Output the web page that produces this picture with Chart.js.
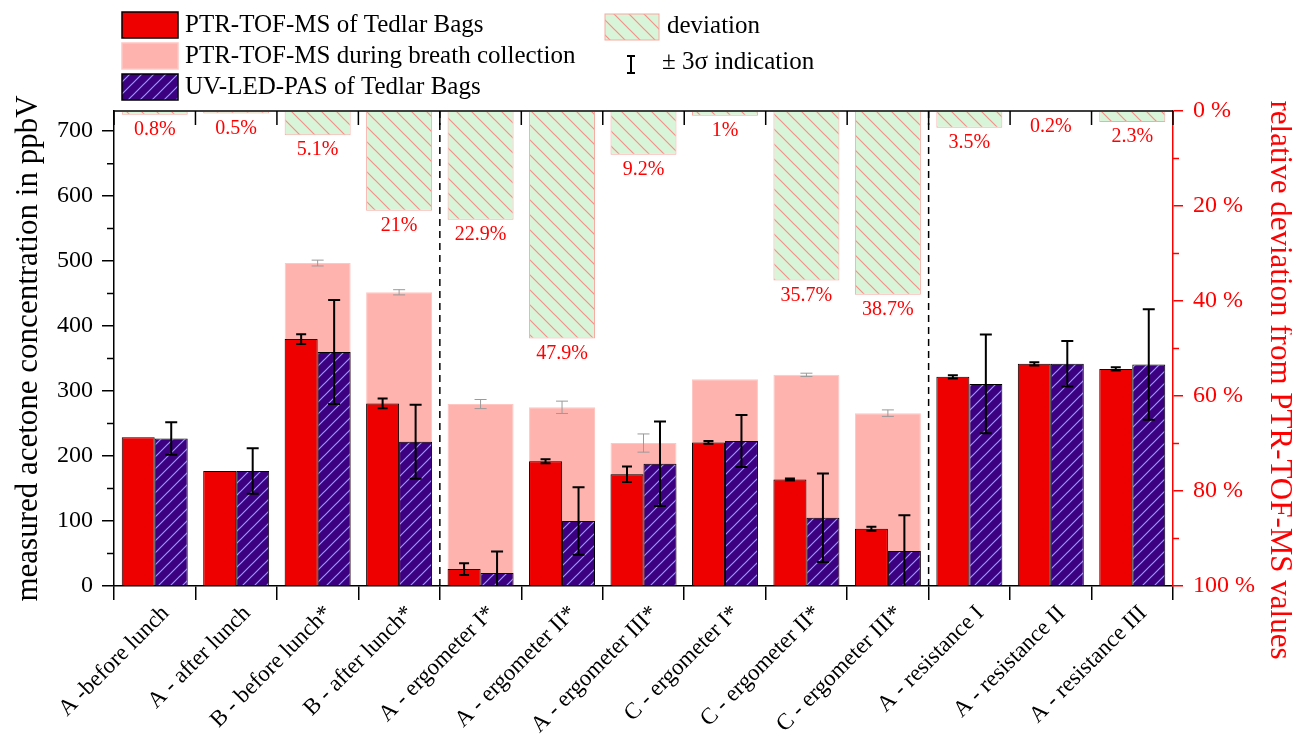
<!DOCTYPE html>
<html>
<head>
<meta charset="utf-8">
<script src="https://cdn.jsdelivr.net/npm/chart.js@4.4.1/dist/chart.umd.min.js"></script>
<style>
  html, body { margin: 0; padding: 0; background: #fff; }
  canvas { display: block; }
</style>
</head>
<body>
<canvas id="myChart" width="1292" height="735"></canvas>
<script>
// data
const categories = ['A -before lunch', 'A - after lunch', 'B - before lunch*', 'B - after lunch*',
  'A - ergometer I*', 'A - ergometer II*', 'A - ergometer III*', 'C - ergometer I*',
  'C - ergometer II*', 'C - ergometer III*', 'A - resistance I', 'A - resistance II', 'A - resistance III'];
const ptrBag       = [229, 177, 380, 281, 26, 192, 172, 221, 164, 88, 322, 342, 334];
const ptrBagErr    = [0, 0, 7.5, 7.5, 9, 3, 12, 2, 1.5, 3, 2.5, 2.5, 2.5];
const pasBag       = [227, 177, 360, 222, 20, 100, 188, 223, 105, 54, 311, 342, 341];
const pasBagErr    = [25, 35, 80, 57, 33, 52, 65, 40, 68, 55, 76, 35, 85];
const ptrBreath    = [null, null, 497, 452, 280, 275, 220, 318, 325, 266, null, null, null];
const ptrBreathErr = [0, 0, 4.5, 4, 7, 9.5, 14, 0, 2.5, 5, 0, 0, 0];
const deviation    = [0.8, 0.5, 5.1, 21, 22.9, 47.9, 9.2, 1, 35.7, 38.7, 3.5, 0.2, 2.3];
const separators   = [4, 10]; // dashed line before these category indices
const rightTitle   = 'relative deviation from PTR-TOF-MS values';

const FONT = "'Liberation Serif', 'Times New Roman', serif";
const RED = '#ee0000';
const AXRED = '#ff0000';

function hatch(bg, line, size, lw, slash) {
  const c = document.createElement('canvas');
  c.width = c.height = size;
  const g = c.getContext('2d');
  g.fillStyle = bg;
  g.fillRect(0, 0, size, size);
  g.strokeStyle = line;
  g.lineWidth = lw;
  g.beginPath();
  if (slash) {
    g.moveTo(-1, size + 1); g.lineTo(size + 1, -1);
    g.moveTo(-1, 1); g.lineTo(1, -1);
    g.moveTo(size - 1, size + 1); g.lineTo(size + 1, size - 1);
  } else {
    g.moveTo(-1, -1); g.lineTo(size + 1, size + 1);
    g.moveTo(size - 1, -1); g.lineTo(size + 1, 1);
    g.moveTo(-1, size - 1); g.lineTo(1, size + 1);
  }
  g.stroke();
  return g.createPattern(c, 'repeat');
}

const purpleFill = hatch('#3d0080', '#8f9cff', 12, 1.2, true);
const devFill = hatch('#d9f5d9', '#f5908a', 15, 1.2, false);

// error bars, separators, deviation labels, legend, extra ticks
const extras = {
  id: 'extras',
  afterDatasetsDraw(chart) {
    const { ctx, chartArea: a, scales: { x, y } } = chart;
    const errs = [
      [2, ptrBreathErr, '#9a9a9a', 1, 12],
      [0, ptrBagErr, '#000', 2, 10],
      [1, pasBagErr, '#000', 2, 12]
    ];
    ctx.save();
    ctx.beginPath();
    ctx.rect(a.left, a.top, a.right - a.left, a.bottom - a.top);
    ctx.clip();
    errs.forEach(([di, e, col, lw, cap]) => {
      const vals = chart.data.datasets[di].data;
      chart.getDatasetMeta(di).data.forEach((bar, i) => {
        if (vals[i] == null || !e[i]) return;
        const yt = y.getPixelForValue(vals[i] + e[i]);
        const yb = y.getPixelForValue(vals[i] - e[i]);
        ctx.strokeStyle = col;
        ctx.lineWidth = lw;
        ctx.beginPath();
        ctx.moveTo(bar.x, yt); ctx.lineTo(bar.x, yb);
        ctx.moveTo(bar.x - cap / 2, yt); ctx.lineTo(bar.x + cap / 2, yt);
        ctx.moveTo(bar.x - cap / 2, yb); ctx.lineTo(bar.x + cap / 2, yb);
        ctx.stroke();
      });
    });
    ctx.restore();

    // dashed separators
    const half = (x.getPixelForValue(1) - x.getPixelForValue(0)) / 2;
    ctx.save();
    ctx.strokeStyle = '#000';
    ctx.lineWidth = 1.5;
    ctx.setLineDash([7, 5]);
    separators.forEach(s => {
      const px = x.getPixelForValue(s) - half;
      ctx.beginPath();
      ctx.moveTo(px, a.top); ctx.lineTo(px, a.bottom);
      ctx.stroke();
    });
    ctx.restore();

    // deviation labels
    ctx.save();
    ctx.fillStyle = AXRED;
    ctx.font = '20px ' + FONT;
    ctx.textAlign = 'center';
    ctx.textBaseline = 'middle';
    chart.getDatasetMeta(3).data.forEach((bar, i) => {
      ctx.fillText(deviation[i] + '%', bar.x, bar.y + 15);
    });
    ctx.restore();
  },
  afterDraw(chart) {
    const { ctx, chartArea: a, scales: { x, y, y2 } } = chart;
    const half = (x.getPixelForValue(1) - x.getPixelForValue(0)) / 2;
    ctx.save();
    // top frame and inward top ticks
    ctx.strokeStyle = '#000';
    ctx.lineWidth = 1.5;
    ctx.beginPath();
    ctx.moveTo(a.left, a.top); ctx.lineTo(a.right, a.top);
    for (let i = 0; i <= categories.length; i++) {
      const px = x.getPixelForValue(0) - half + i * 2 * half;
      ctx.moveTo(px, a.top); ctx.lineTo(px, a.top + 14);
    }
    // left minor ticks
    for (let v = 50; v < 731; v += 100) {
      const py = y.getPixelForValue(v);
      ctx.moveTo(a.left - 7, py); ctx.lineTo(a.left, py);
    }
    ctx.stroke();
    // right minor ticks
    ctx.strokeStyle = AXRED;
    ctx.beginPath();
    for (let v = 10; v < 100; v += 20) {
      const py = y2.getPixelForValue(v);
      ctx.moveTo(a.right, py); ctx.lineTo(a.right + 6, py);
    }
    ctx.stroke();

    // right axis title (sits a little below centre in the original)
    ctx.save();
    ctx.translate(1279, 380);
    ctx.rotate(Math.PI / 2);
    ctx.fillStyle = AXRED;
    ctx.font = '31px ' + FONT;
    ctx.textAlign = 'center';
    ctx.textBaseline = 'middle';
    ctx.fillText(rightTitle, 0, 0);
    ctx.restore();

    // legend
    ctx.font = '25px ' + FONT;
    ctx.textBaseline = 'middle';
    ctx.textAlign = 'left';
    const ds = chart.data.datasets;
    const rows = [
      [ds[0], 122, 12, 25],
      [ds[2], 122, 43, 56],
      [ds[1], 122, 74, 87]
    ];
    rows.forEach(([d, bx, by, ty]) => {
      ctx.fillStyle = d.backgroundColor;
      ctx.fillRect(bx, by, 56, 26);
      ctx.strokeStyle = d.borderColor;
      ctx.lineWidth = 1.5;
      ctx.strokeRect(bx, by, 56, 26);
      ctx.fillStyle = '#000';
      ctx.fillText(d.label, 185, ty);
    });
    ctx.fillStyle = ds[3].backgroundColor;
    ctx.fillRect(605, 14, 54, 26);
    ctx.strokeStyle = ds[3].borderColor;
    ctx.lineWidth = 1;
    ctx.strokeRect(605, 14, 54, 26);
    ctx.fillStyle = '#000';
    ctx.fillText(ds[3].label, 667, 26);
    ctx.strokeStyle = '#000';
    ctx.lineWidth = 2;
    ctx.beginPath();
    ctx.moveTo(631, 56); ctx.lineTo(631, 73);
    ctx.moveTo(627, 56); ctx.lineTo(635, 56);
    ctx.moveTo(627, 73); ctx.lineTo(635, 73);
    ctx.stroke();
    ctx.fillText('\u00b1 3\u03c3 indication', 662, 62);
    ctx.restore();
  }
};

const data = {
  labels: categories,
  datasets: [{
    label: 'PTR-TOF-MS of Tedlar Bags',
    data: ptrBag,
    yAxisID: 'y',
    backgroundColor: RED,
    borderColor: '#000',
    borderWidth: 1,
    order: 1
  }, {
    label: 'UV-LED-PAS of Tedlar Bags',
    data: pasBag,
    yAxisID: 'y',
    backgroundColor: purpleFill,
    borderColor: '#000',
    borderWidth: 1,
    order: 1
  }, {
    label: 'PTR-TOF-MS during breath collection',
    data: ptrBreath,
    yAxisID: 'y',
    grouped: false,
    backgroundColor: '#ffb3ae',
    borderColor: '#ffc6c2',
    borderWidth: 1,
    order: 2
  }, {
    label: 'deviation',
    data: deviation,
    yAxisID: 'y2',
    grouped: false,
    backgroundColor: devFill,
    borderColor: '#f7a9a2',
    borderWidth: 1,
    order: 0
  }]
};

const config = {
  type: 'bar',
  data,
  options: {
    responsive: false,
    animation: false,
    categoryPercentage: 0.81,
    barPercentage: 1,
    layout: { padding: { top: 111, left: 0, right: 0, bottom: 0 } },
    plugins: { legend: { display: false }, tooltip: { enabled: false } },
    scales: {
      x: {
        offset: true,
        afterFit: s => { s.height = 149; },
        grid: { offset: true, drawOnChartArea: false, color: '#000', lineWidth: 1.5, tickLength: 14 },
        border: { color: '#000', width: 1.5 },
        ticks: { color: '#000', font: { family: FONT, size: 23 }, maxRotation: 45, minRotation: 45,
          autoSkip: false, padding: 0, labelOffset: 11 }
      },
      y: {
        position: 'left',
        min: 0,
        max: 731,
        afterFit: s => { s.width = 114; },
        grid: { drawOnChartArea: false, color: '#000', lineWidth: 1.5, tickLength: 12 },
        border: { color: '#000', width: 1.5 },
        ticks: { stepSize: 100, includeBounds: false, color: '#000', padding: 9, font: { family: FONT, size: 24 } },
        title: { display: true, text: 'measured acetone concentration in ppbV', color: '#000',
          font: { family: FONT, size: 31, lineHeight: 0.8 }, padding: { top: 16, bottom: 0 } }
      },
      y2: {
        position: 'right',
        reverse: true,
        min: 0,
        max: 100,
        afterFit: s => { s.width = 119; },
        grid: { drawOnChartArea: false, color: AXRED, lineWidth: 1.5, tickLength: 10 },
        border: { color: AXRED, width: 1.5 },
        ticks: { stepSize: 20, includeBounds: false, color: AXRED, padding: 10, font: { family: FONT, size: 24 },
          callback: v => v + ' %' }
      }
    }
  },
  plugins: [extras]
};

const myChart = new Chart(document.getElementById('myChart'), config);
</script>
</body>
</html>
